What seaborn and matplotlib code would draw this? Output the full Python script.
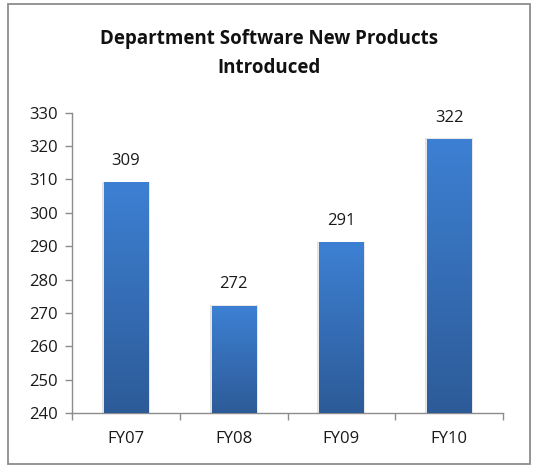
import numpy as np
import pandas as pd
import matplotlib
matplotlib.use("Agg")
import matplotlib.pyplot as plt
import matplotlib.patches as mpatches
from matplotlib.colors import LinearSegmentedColormap
import seaborn as sns

# Chart data
years = ["FY07", "FY08", "FY09", "FY10"]
products = [309, 272, 291, 322]
y_ticks = [240, 250, 260, 270, 280, 290, 300, 310, 320, 330]

df = pd.DataFrame({"Year": years, "Products": products})

sns.set_style("white")
plt.rcParams["font.family"] = ["Open Sans", "DejaVu Sans"]

fig = plt.figure(figsize=(5.38, 4.65), dpi=100)
ax = fig.add_axes([0.1338, 0.1118, 0.8012, 0.6458])

ymin, ymax = 240, 330
sns.barplot(data=df, x="Year", y="Products", color="#3a78c8", width=0.41,
            ax=ax, zorder=2)

# gradient fill on each bar (lighter top, darker bottom)
grad = LinearSegmentedColormap.from_list("g", ["#2d5b98", "#3d80d3"])
img = np.linspace(0, 1, 256).reshape(-1, 1)
for patch in ax.patches:
    x0, w = patch.get_x(), patch.get_width()
    top = patch.get_y() + patch.get_height()
    # soft shadow
    shadow = mpatches.Rectangle((x0 - 0.018, ymin), w + 0.036, top - ymin + 0.3,
                                facecolor="#cfcfcf", edgecolor="none",
                                alpha=0.6, zorder=1)
    ax.add_patch(shadow)
    ax.imshow(img, cmap=grad, origin="lower", aspect="auto",
              extent=[x0, x0 + w, ymin, top], zorder=3)

ax.set_xlim(-0.5, 3.5)
ax.set_ylim(ymin, ymax)
ax.set_yticks(y_ticks)
ax.set_xlabel("")
ax.set_ylabel("")

# value labels
for i, v in enumerate(products):
    ax.annotate(str(v), (i, v), xytext=(0, 10), textcoords="offset points",
                ha="center", va="bottom", fontsize=12, color="#1a1a1a")

# axes styling
for side in ["top", "right"]:
    ax.spines[side].set_visible(False)
for side in ["left", "bottom"]:
    ax.spines[side].set_color("#8c8c8c")
    ax.spines[side].set_linewidth(1.0)

ax.set_xticks([-0.5, 0.5, 1.5, 2.5, 3.5], minor=True)
ax.tick_params(axis="x", which="minor", direction="out", length=5,
               color="#8c8c8c", width=1, bottom=True)
ax.tick_params(axis="x", which="major", length=0, labelsize=12,
               pad=13, colors="#1a1a1a")
ax.tick_params(axis="y", direction="out", length=5, color="#8c8c8c",
               width=1, labelsize=12, pad=5, left=True, labelcolor="#1a1a1a")

fig.text(0.5, 0.884, "Department Software New Products\nIntroduced",
         ha="center", va="center", fontsize=13.5, fontweight="bold",
         linespacing=1.6, color="#111111")

# outer chart border
border = mpatches.Rectangle((8 / 538, 1 - 464 / 465), 522 / 538, 460 / 465,
                            transform=fig.transFigure, fill=False,
                            edgecolor="#8c8c8c", linewidth=1.3)
fig.patches.append(border)

fig.savefig("out.png", dpi=100)
